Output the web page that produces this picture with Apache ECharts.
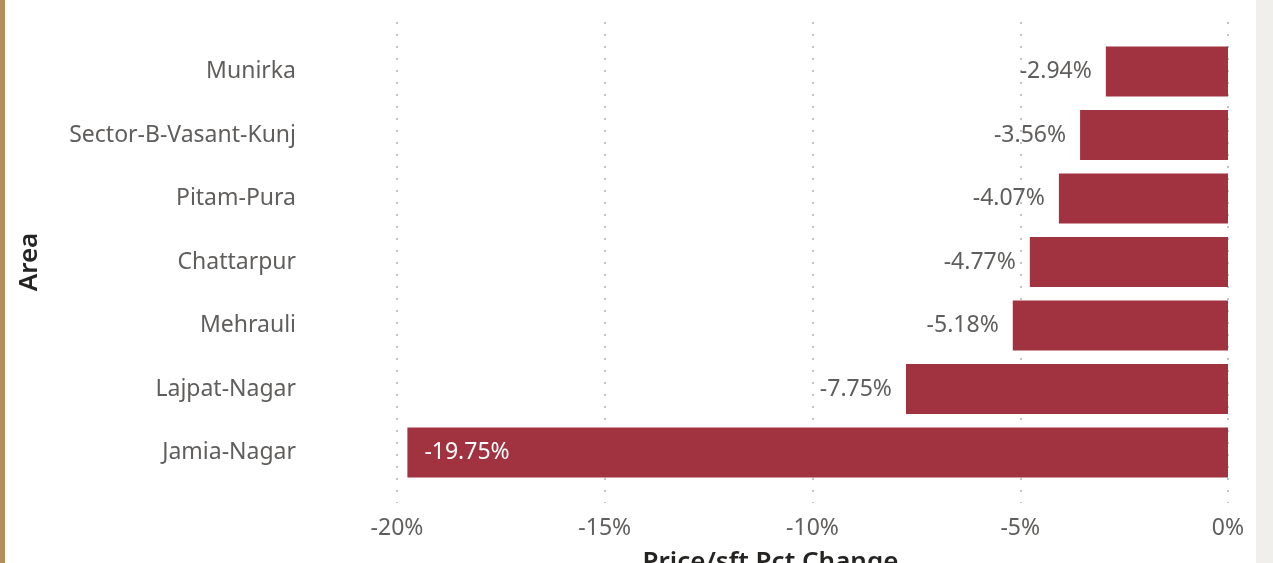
<!DOCTYPE html>
<html>
<head>
<meta charset="utf-8">
<script src="https://cdn.jsdelivr.net/npm/echarts@6/dist/echarts.min.js"></script>
<style>
  html, body { margin: 0; padding: 0; background: #ffffff; }
  #chart { width: 1273px; height: 563px; }
</style>
</head>
<body>
<div id="chart"></div>
<script>
// Areas, top to bottom as drawn
const areas = ['Munirka', 'Sector-B-Vasant-Kunj', 'Pitam-Pura', 'Chattarpur', 'Mehrauli', 'Lajpat-Nagar', 'Jamia-Nagar'];
// Price per sq.ft change, percent
const pctChange = [-2.94, -3.56, -4.07, -4.77, -5.18, -7.75, -19.75];
// Value axis range and step, percent
const axisMin = -20;
const axisMax = 0;
const axisStep = 5;

const FONT = '"Noto Sans", "Open Sans", sans-serif';
const GREY = '#605e5c';
const DARK = '#252423';
const BAR = '#a0333f';

// Long bars carry their label inside, short ones outside to the left
const barData = pctChange.map(v => {
  const inside = v <= -15;
  return {
    value: v,
    label: inside
      ? { position: 'insideLeft', distance: 17, color: '#ffffff' }
      : { position: 'left', distance: 14, color: GREY }
  };
});

const chart = echarts.init(document.getElementById('chart'), null, { renderer: 'canvas' });

chart.setOption({
  backgroundColor: '#ffffff',
  animation: false,
  graphic: [
    { type: 'rect', left: 0, top: 0, shape: { width: 5, height: 563 }, style: { fill: '#b38f57' }, z: 10 },
    { type: 'rect', left: 1256, top: 0, shape: { width: 17, height: 563 }, style: { fill: '#f0efeb' }, z: 10 }
  ],
  grid: [
    { left: 397, right: 45, top: 39.75, bottom: 78.75, outerBoundsMode: 'none' },
    { left: 397, right: 45, top: 22, bottom: 60, outerBoundsMode: 'none' }
  ],
  xAxis: [
    {
      gridIndex: 0, type: 'value', min: axisMin, max: axisMax, interval: axisStep,
      show: false, splitLine: { show: false }
    },
    {
      gridIndex: 1, type: 'value', min: axisMin, max: axisMax, interval: axisStep,
      axisLine: { show: false }, axisTick: { show: false },
      axisLabel: { formatter: v => v + '%', color: GREY, fontFamily: FONT, fontSize: 23, margin: 14 },
      splitLine: { show: true, lineStyle: { color: '#c4c4c4', width: 2, type: [2, 10] } },
      name: 'Price/sft Pct Change', nameLocation: 'middle', nameGap: 47,
      nameTextStyle: { color: DARK, fontFamily: FONT, fontSize: 26, fontWeight: 600, padding: [0, 84, 0, 0] }
    }
  ],
  yAxis: [
    {
      gridIndex: 0, type: 'category', data: areas, inverse: true,
      axisLine: { show: false }, axisTick: { show: false },
      axisLabel: { color: GREY, fontFamily: FONT, fontSize: 23, margin: 101 },
      name: 'Area', nameLocation: 'middle', nameRotate: 90, nameGap: 354,
      nameTextStyle: { color: DARK, fontFamily: FONT, fontSize: 26, fontWeight: 600 }
    },
    {
      gridIndex: 1, type: 'value', show: false, splitLine: { show: false }
    }
  ],
  series: [
    {
      type: 'bar',
      xAxisIndex: 0, yAxisIndex: 0,
      data: barData,
      barCategoryGap: '21%',
      itemStyle: { color: BAR },
      label: {
        show: true,
        formatter: p => p.value.toFixed(2) + '%',
        fontFamily: FONT, fontSize: 23
      },
      z: 3
    }
  ]
});
</script>
</body>
</html>
